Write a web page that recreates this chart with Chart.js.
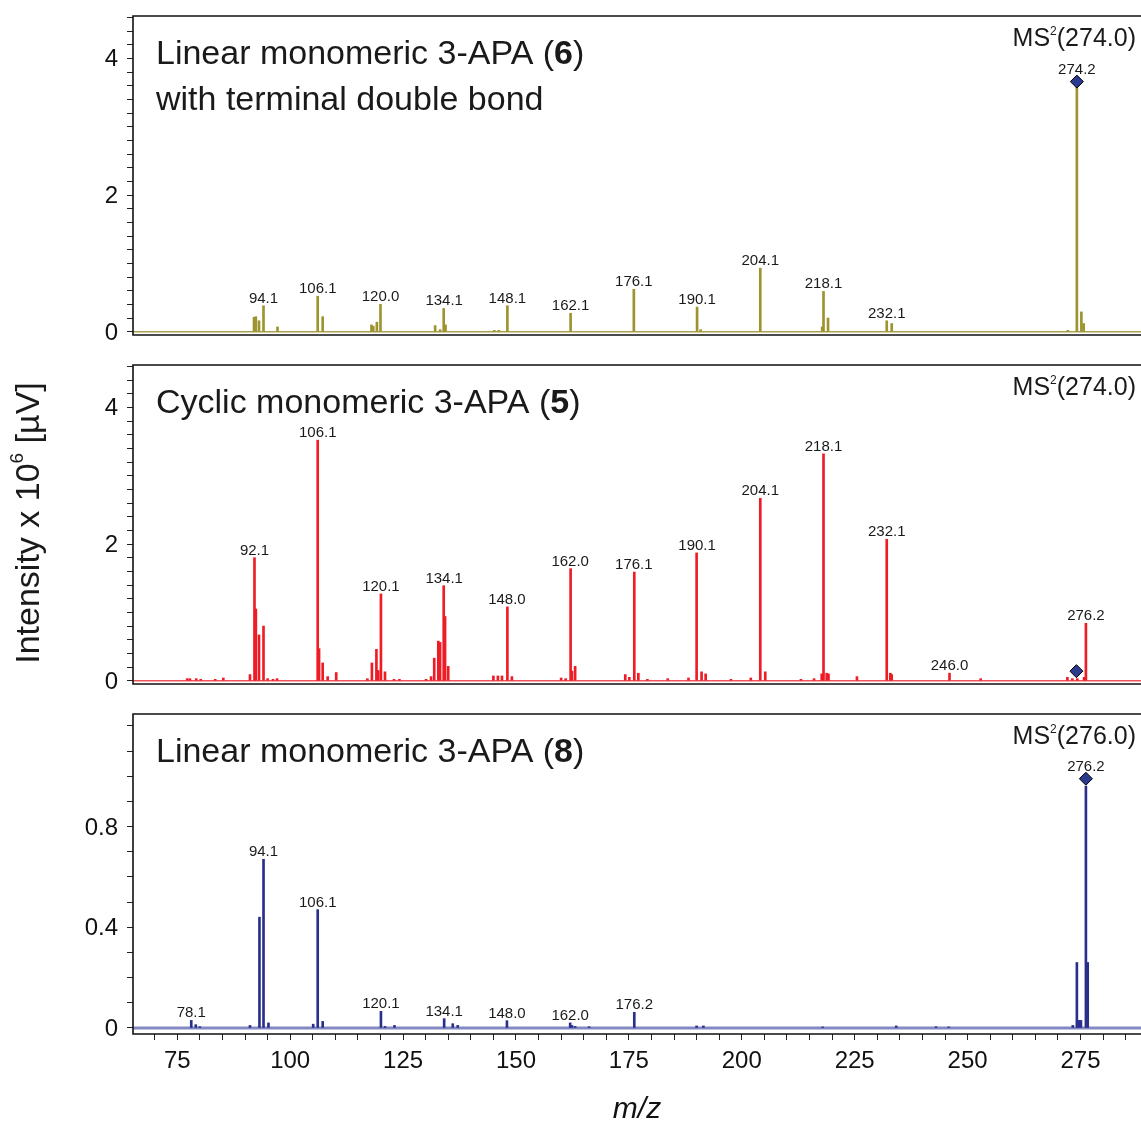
<!DOCTYPE html>
<html><head><meta charset="utf-8">
<script src="https://cdn.jsdelivr.net/npm/chart.js@4.4.1/dist/chart.umd.min.js"></script>
<style>
html,body{margin:0;padding:0;background:#fff;width:1141px;height:1122px;overflow:hidden;}
canvas{position:absolute;left:0;}
#c1{top:0px} #c2{top:350px} #c3{top:700px}
</style></head><body>
<canvas id="c1" width="1141" height="345"></canvas>
<canvas id="c2" width="1141" height="345"></canvas>
<canvas id="c3" width="1141" height="422"></canvas>
<script>
// ---------- axis ranges / tick labels ----------
const XMIN = 65.2, XMAX = 288.4;
const xTickLabels = [75, 100, 125, 150, 175, 200, 225, 250, 275];
const p1YLabels = [0, 2, 4];
const p2YLabels = [0, 2, 4];
const p3YLabels = [0, 0.4, 0.8];

// ---------- Panel 1: Linear monomeric 3-APA (6), MS2(274.0) ----------
const p1Mz  = [92.0, 92.4, 93.1, 94.1, 97.2, 106.1, 107.2, 118.0, 118.4, 119.2, 120.0, 132.1, 133.2, 134.0, 134.4,
               145.2, 146.2, 148.1, 162.1, 176.1, 190.1, 190.9, 204.1, 217.8, 218.1, 219.1, 232.1, 233.2,
               272.2, 274.2, 275.2, 275.7];
const p1Int = [0.21, 0.22, 0.16, 0.38, 0.07, 0.52, 0.22, 0.10, 0.08, 0.14, 0.40, 0.09, 0.03, 0.34, 0.10,
               0.02, 0.02, 0.38, 0.27, 0.62, 0.36, 0.03, 0.93, 0.07, 0.59, 0.20, 0.16, 0.12,
               0.02, 3.60, 0.29, 0.12];
const p1Labels = ['94.1', '106.1', '120.0', '134.1', '148.1', '162.1', '176.1', '190.1', '204.1', '218.1', '232.1', '274.2'];
const p1PrecMz = [274.2];
const p1PrecInt = [3.66];

// ---------- Panel 2: Cyclic monomeric 3-APA (5), MS2(274.0) ----------
const p2Mz  = [77.2, 77.8, 79.2, 80.2, 83.4, 85.2, 91.1, 92.1, 92.4, 93.1, 94.1, 95.0, 96.2, 97.1,
               106.1, 106.4, 107.2, 108.3, 110.2, 117.1, 118.1, 119.1, 119.5, 120.1, 121.0, 123.0, 124.2,
               130.1, 131.2, 131.9, 132.8, 133.2, 134.0, 134.3, 135.0, 145.0, 146.0, 146.9, 148.1, 149.1,
               160.0, 161.0, 162.1, 162.4, 163.1, 174.2, 175.1, 176.2, 177.1, 179.1,
               183.6, 188.2, 190.0, 191.1, 192.0, 197.6, 202.0, 204.1, 205.2,
               213.1, 216.0, 217.7, 218.1, 218.8, 219.2, 225.5, 232.1, 232.9, 233.2,
               246.0, 252.9, 272.1, 273.2, 274.3, 275.8, 276.2];
const p2Int = [0.03, 0.03, 0.03, 0.02, 0.02, 0.04, 0.09, 1.80, 1.05, 0.67, 0.80, 0.03, 0.02, 0.03,
               3.52, 0.47, 0.26, 0.06, 0.12, 0.03, 0.26, 0.46, 0.15, 1.27, 0.13, 0.02, 0.02,
               0.02, 0.06, 0.33, 0.58, 0.56, 1.39, 0.94, 0.21, 0.07, 0.07, 0.07, 1.08, 0.06,
               0.04, 0.03, 1.64, 0.14, 0.21, 0.09, 0.05, 1.59, 0.11, 0.02,
               0.03, 0.04, 1.87, 0.13, 0.10, 0.02, 0.04, 2.67, 0.13,
               0.02, 0.03, 0.10, 3.32, 0.11, 0.10, 0.06, 2.07, 0.11, 0.09,
               0.11, 0.03, 0.05, 0.03, 0.03, 0.05, 0.84];
const p2Labels = ['92.1', '106.1', '120.1', '134.1', '148.0', '162.0', '176.1', '190.1', '204.1', '218.1', '232.1', '246.0', '276.2'];
const p2PrecMz = [274.1];
const p2PrecInt = [0.14];

// ---------- Panel 3: Linear monomeric 3-APA (8), MS2(276.0) ----------
const p3Mz  = [78.1, 79.1, 80.0, 91.1, 93.2, 94.1, 95.2, 105.1, 106.1, 107.2, 120.1, 121.0, 123.1,
               134.1, 136.0, 137.1, 148.0, 162.0, 162.4, 163.1, 166.2, 176.2,
               190.0, 191.5, 217.9, 234.2, 243.0, 245.8, 273.3, 274.2, 274.6, 275.1, 276.2, 276.6];
const p3Int = [0.030, 0.013, 0.005, 0.010, 0.44, 0.67, 0.020, 0.015, 0.47, 0.026, 0.066, 0.006, 0.010,
               0.037, 0.017, 0.010, 0.029, 0.020, 0.010, 0.006, 0.005, 0.062,
               0.008, 0.008, 0.004, 0.008, 0.005, 0.004, 0.010, 0.26, 0.030, 0.030, 0.96, 0.26];
const p3Labels = ['78.1', '94.1', '106.1', '120.1', '134.1', '148.0', '162.0', '176.2', '276.2'];
const p3PrecMz = [276.2];
const p3PrecInt = [0.99];

// ---------- plugins ----------
const FONT = "'Liberation Sans', Arial, Helvetica, sans-serif";
Chart.defaults.font.family = FONT;
Chart.defaults.color = '#111';

const framePlugin = {
  id: 'frame',
  afterDatasetsDraw(chart) {
    const {ctx, chartArea: a} = chart;
    ctx.save();
    ctx.strokeStyle = '#111'; ctx.lineWidth = 1.6;
    ctx.beginPath();
    ctx.moveTo(a.right + 2, a.top); ctx.lineTo(a.left, a.top);
    ctx.lineTo(a.left, a.bottom); ctx.lineTo(a.right + 2, a.bottom);
    ctx.stroke();
    ctx.restore();
  }
};

const peakLabelPlugin = {
  id: 'peakLabels',
  afterDraw(chart, args, o) {
    if (!o || !o.texts) return;
    const {ctx, scales: {x, y}} = chart;
    ctx.save();
    ctx.font = '15px ' + FONT; ctx.fillStyle = '#1a1a1a';
    ctx.textAlign = 'center'; ctx.textBaseline = 'alphabetic';
    o.texts.forEach(t => {
      const m = parseFloat(t);
      let top = Infinity;
      o.mz.forEach((v, i) => { if (Math.abs(v - m) <= 0.35) top = Math.min(top, y.getPixelForValue(o.int[i])); });
      o.precMz.forEach((v, i) => { if (Math.abs(v - m) <= 0.35) top = Math.min(top, y.getPixelForValue(o.precInt[i]) - 5); });
      ctx.fillText(t, x.getPixelForValue(m), top - 3);
    });
    ctx.restore();
  }
};

const panelTextPlugin = {
  id: 'panelText',
  afterDraw(chart, args, o) {
    if (!o || !o.lines) return;
    const {ctx, chartArea: a} = chart;
    ctx.save();
    ctx.fillStyle = '#1a1a1a'; ctx.textBaseline = 'alphabetic'; ctx.textAlign = 'left';
    o.lines.forEach((segs, li) => {
      let x = a.left + 23;
      const y = a.top + 47.5 + li * 46;
      segs.forEach(s => {
        ctx.font = (s.b ? 'bold ' : '') + '34px ' + FONT;
        ctx.fillText(s.t, x, y);
        x += ctx.measureText(s.t).width;
      });
    });
    // MS^2(...) label, right aligned
    const parts = [{t: 'MS', f: 25, dy: 0}, {t: '2', f: 12, dy: -11}, {t: '(' + o.ms + ')', f: 25, dy: 0}];
    let w = 0;
    parts.forEach(p => { ctx.font = p.f + 'px ' + FONT; p.w = ctx.measureText(p.t).width; w += p.w; });
    let x = a.right - 5 - w;
    const yb = a.top + 30;
    parts.forEach(p => { ctx.font = p.f + 'px ' + FONT; ctx.fillText(p.t, x, yb + p.dy); x += p.w; });
    // optional global y title
    if (o.yTitle) {
      ctx.translate(30, 173);
      ctx.rotate(-Math.PI / 2);
      ctx.textBaseline = 'middle';
      const yp = [{t: 'Intensity x 10', f: 34, dy: 0}, {t: '6', f: 19, dy: -12}, {t: ' [\u00b5V]', f: 34, dy: 0}];
      let tw = 0;
      yp.forEach(p => { ctx.font = p.f + 'px ' + FONT; p.w = ctx.measureText(p.t).width; tw += p.w; });
      let xx = -tw / 2;
      yp.forEach(p => { ctx.font = p.f + 'px ' + FONT; ctx.fillText(p.t, xx, p.dy); xx += p.w; });
    }
    ctx.restore();
  }
};

function toPts(xs, ys) { return xs.map((v, i) => ({x: v, y: ys[i]})); }
function labelCb(list) {
  return v => { const l = list.find(q => Math.abs(q - v) < 1e-6); return l === undefined ? '' : String(l); };
}

function makePanel(id, p) {
  return new Chart(document.getElementById(id), {
    type: 'bar',
    data: {
      datasets: [
        {type: 'line', data: [{x: XMIN, y: 0}, {x: XMAX, y: 0}], borderColor: p.baseColor, borderWidth: p.baseWidth,
         pointRadius: 0, order: 3},
        {type: 'bar', data: toPts(p.mz, p.int), backgroundColor: p.color, borderWidth: 0, barThickness: 2, order: 2},
        {type: 'line', showLine: false, data: toPts(p.precMz, p.precInt), pointStyle: 'rectRot', pointRadius: 6.5,
         pointBackgroundColor: '#2b3a8f', pointBorderColor: '#000', pointBorderWidth: 1, order: 1}
      ]
    },
    options: {
      responsive: false, animation: false, devicePixelRatio: 1,
      layout: {autoPadding: false, padding: {top: p.padTop, bottom: p.padBottom, left: 0, right: 0}},
      plugins: {
        legend: {display: false}, tooltip: {enabled: false},
        peakLabels: {texts: p.labels, mz: p.mz, int: p.int, precMz: p.precMz, precInt: p.precInt},
        panelText: {lines: p.title, ms: p.ms, yTitle: !!p.yTitle}
      },
      scales: {
        x: {
          type: 'linear', min: XMIN, max: XMAX, offset: false, display: !!p.showX,
          afterFit(s) { if (p.showX) s.height = 88; else s.height = 0; s.paddingLeft = 0; s.paddingRight = 0; },
          ticks: {stepSize: 5, includeBounds: false, autoSkip: false, maxRotation: 0, minRotation: 0,
                  callback: labelCb(xTickLabels), font: {size: 24}, color: '#111', padding: 7},
          grid: {drawOnChartArea: false, drawTicks: true, tickLength: 6, color: '#222', offset: false},
          border: {display: false},
          title: {display: true, text: 'm/z', font: {size: 30, style: 'italic', lineHeight: 0.8}, color: '#111', padding: 0}
        },
        y: {
          min: p.yMin, max: p.yMax,
          afterFit(s) { s.width = 133; s.paddingTop = 0; s.paddingBottom = 0; },
          ticks: {stepSize: p.yStep, includeBounds: false, autoSkip: false, callback: labelCb(p.yLabels),
                  font: {size: 24}, color: '#111', padding: 9, labelOffset: 1.5},
          grid: {drawOnChartArea: false, drawTicks: true, tickLength: 6, color: '#222'},
          border: {display: false}
        }
      }
    },
    plugins: [framePlugin, peakLabelPlugin, panelTextPlugin]
  });
}

makePanel('c1', {
  mz: p1Mz, int: p1Int, labels: p1Labels, precMz: p1PrecMz, precInt: p1PrecInt,
  color: '#9d932f', baseColor: '#a9a14f', baseWidth: 1.4,
  yMin: -0.048, yMax: 4.62, yStep: 0.2, yLabels: p1YLabels, padTop: 16, padBottom: 10,
  title: [[{t: 'Linear monomeric 3-APA ('}, {t: '6', b: true}, {t: ')'}], [{t: 'with terminal double bond'}]],
  ms: '274.0'
});
makePanel('c2', {
  mz: p2Mz, int: p2Int, labels: p2Labels, precMz: p2PrecMz, precInt: p2PrecInt,
  color: '#ee1c25', baseColor: '#f0555b', baseWidth: 1.4,
  yMin: -0.048, yMax: 4.62, yStep: 0.2, yLabels: p2YLabels, padTop: 15, padBottom: 11,
  title: [[{t: 'Cyclic monomeric 3-APA ('}, {t: '5', b: true}, {t: ')'}]],
  ms: '274.0', yTitle: true
});
makePanel('c3', {
  mz: p3Mz, int: p3Int, labels: p3Labels, precMz: p3PrecMz, precInt: p3PrecInt,
  color: '#2b2f8c', baseColor: '#8489c4', baseWidth: 3,
  yMin: -0.024, yMax: 1.247, yStep: 0.1, yLabels: p3YLabels, padTop: 14, padBottom: 0, showX: true,
  title: [[{t: 'Linear monomeric 3-APA ('}, {t: '8', b: true}, {t: ')'}]],
  ms: '276.0'
});
</script>
</body></html>
